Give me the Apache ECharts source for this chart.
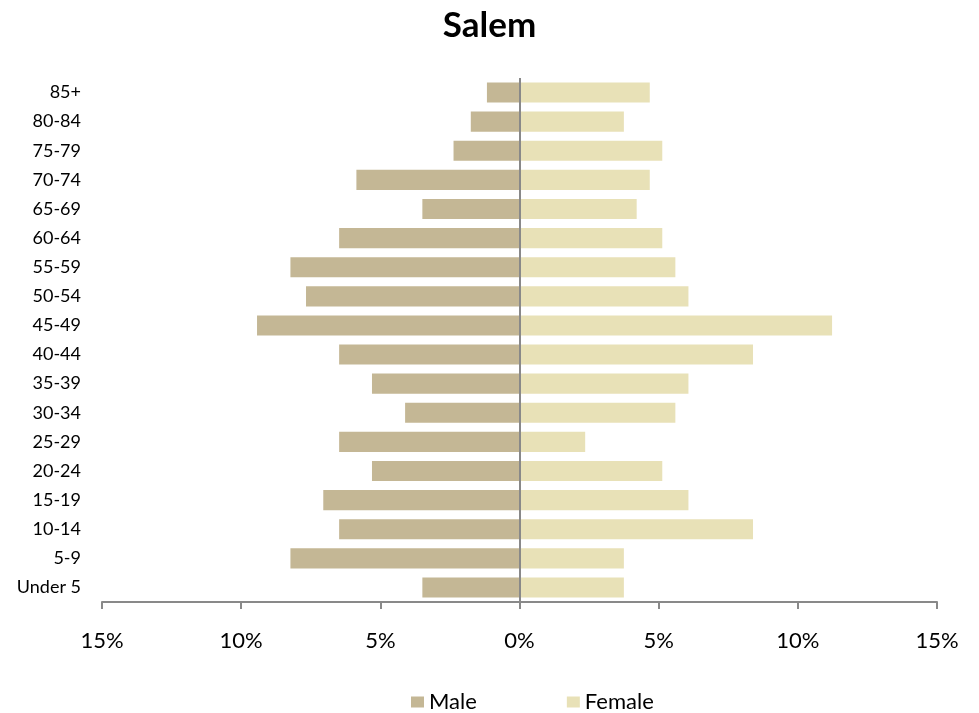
<!DOCTYPE html>
<html>
<head>
<meta charset="utf-8">
<script src="https://cdn.jsdelivr.net/npm/echarts@6/dist/echarts.min.js"></script>
<style>html,body{margin:0;padding:0;background:#fff;}#c{width:979px;height:713px;}</style>
</head>
<body>
<div id="c"></div>
<script>
const categories = ['Under 5','5-9','10-14','15-19','20-24','25-29','30-34','35-39','40-44','45-49','50-54','55-59','60-64','65-69','70-74','75-79','80-84','85+'];
const maleValues = [3.49, 8.23, 6.48, 7.05, 5.30, 6.48, 4.11, 5.30, 6.48, 9.43, 7.67, 8.23, 6.48, 3.49, 5.86, 2.37, 1.75, 1.17];
const femaleValues = [3.75, 3.75, 8.39, 6.07, 5.13, 2.36, 5.60, 6.07, 8.39, 11.23, 6.07, 5.60, 5.13, 4.21, 4.68, 5.13, 3.75, 4.68];
const xTicks = [-15, -10, -5, 0, 5, 10, 15];

const chart = echarts.init(document.getElementById('c'));
const font = 'Lato';
chart.setOption({
  animation: false,
  backgroundColor: '#ffffff',
  title: {
    text: 'Salem',
    left: 'center',
    top: 3,
    textStyle: { fontFamily: font, fontWeight: 'bold', fontSize: 35, color: '#000' }
  },
  legend: {
    left: 406,
    top: 686,
    itemWidth: 13,
    itemHeight: 11,
    itemGap: 90,
    icon: 'rect',
    textStyle: { fontFamily: font, fontSize: 22, color: '#000', padding: [0, 0, 0, 0] },
    data: ['Male', 'Female']
  },
  grid: { left: 102, right: 42, top: 78, bottom: 111, containLabel: false },
  xAxis: {
    type: 'value',
    min: xTicks[0],
    max: xTicks[xTicks.length - 1],
    interval: 5,
    splitLine: { show: false },
    axisLine: { show: true, lineStyle: { color: '#898989', width: 2 } },
    axisTick: { show: true, length: 7, lineStyle: { color: '#898989', width: 2 } },
    axisLabel: {
      margin: 28,
      fontFamily: font,
      fontSize: 22,
      color: '#000',
      formatter: v => Math.abs(v) + '%'
    }
  },
  yAxis: {
    type: 'category',
    data: categories,
    axisLine: { show: false, onZero: false },
    axisTick: { show: false },
    axisLabel: { margin: 21, fontFamily: font, fontSize: 18, color: '#000' }
  },
  series: [
    {
      name: 'Male',
      type: 'bar',
      stack: 'pop',
      barCategoryGap: '31%',
      itemStyle: { color: '#c4b795' },
      data: maleValues.map(v => -v),
      markLine: {
        silent: true,
        symbol: 'none',
        label: { show: false },
        lineStyle: { color: '#898989', width: 2, type: 'solid' },
        data: [{ xAxis: 0 }]
      }
    },
    {
      name: 'Female',
      type: 'bar',
      stack: 'pop',
      barCategoryGap: '31%',
      itemStyle: { color: '#e8e1b7' },
      data: femaleValues
    }
  ]
});
</script>
</body>
</html>
